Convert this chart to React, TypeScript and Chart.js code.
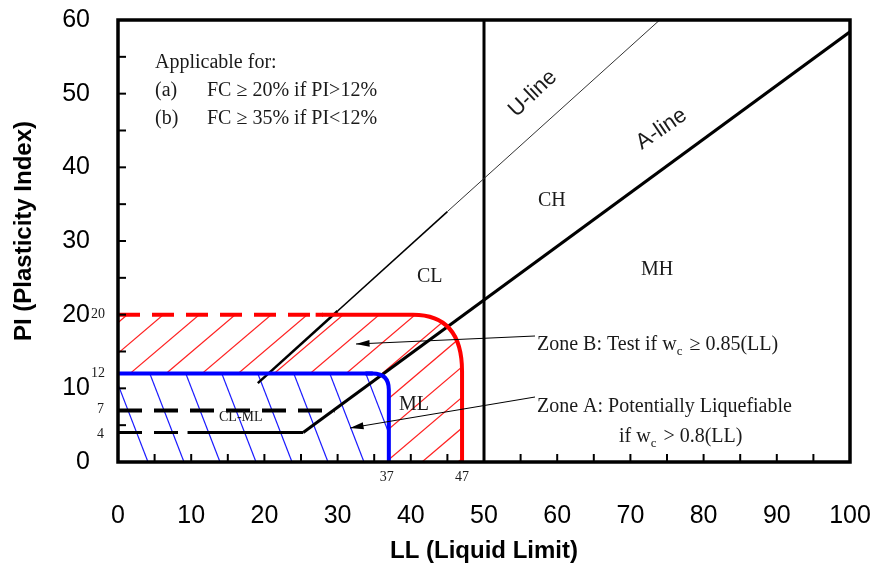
import { useEffect, useRef } from "react";
import Chart from "chart.js/auto";

// line geometry (LL, PI)
const aLine = [{ x: 25.3, y: 4 }, { x: 100, y: 58.4 }];
const uLineLow = [{ x: 19.1, y: 10.7 }, { x: 30, y: 20.5 }];
const uLineMid = [{ x: 30, y: 20.5 }, { x: 45, y: 34 }];
const uLineHigh = [{ x: 45, y: 34 }, { x: 74, y: 60 }];
const lineTop = [{ x: 50, y: 0 }, { x: 50, y: 60 }];
const pi7Dashed = [{ x: 0, y: 7 }, { x: 29.6, y: 7 }];
const pi4Dashed = [{ x: 0, y: 4 }, { x: 10, y: 4 }];
const pi4Solid = [{ x: 9.5, y: 4 }, { x: 25.3, y: 4 }];
const redDashed = [{ x: 0, y: 20 }, { x: 28, y: 20 }];
const blueDashless = [{ x: 0, y: 12 }, { x: 34.8, y: 12 }];

// zone boundaries
const zoneB = { ll: 47, pi: 20, cornerLL: 40.3, cornerPI: 12.3 };
const zoneA = { ll: 37, pi: 12, cornerLL: 34.8, cornerPI: 9.8 };

const xTicks = [0, 10, 20, 30, 40, 50, 60, 70, 80, 90, 100];
const yTicks = [0, 10, 20, 30, 40, 50, 60];

const serif = "'Liberation Serif', 'Times New Roman', serif";
const sans = "'Liberation Sans', Arial, sans-serif";

export default function App() {
  const canvasRef = useRef<HTMLCanvasElement>(null);

  useEffect(() => {
    document.body.style.margin = "0";
    const canvas = canvasRef.current;
    if (!canvas) return;

    const zonePath = (ctx: CanvasRenderingContext2D, xp: (v: number) => number, yp: (v: number) => number, z: typeof zoneB) => {
      ctx.beginPath();
      ctx.moveTo(xp(0), yp(0));
      ctx.lineTo(xp(0), yp(z.pi));
      ctx.lineTo(xp(z.cornerLL), yp(z.pi));
      ctx.quadraticCurveTo(xp(z.ll), yp(z.pi), xp(z.ll), yp(z.cornerPI));
      ctx.lineTo(xp(z.ll), yp(0));
      ctx.closePath();
    };

    const overlay = {
      id: "overlay",
      beforeDatasetsDraw(chart: any) {
        const { ctx, chartArea: a, scales } = chart;
        const xp = (v: number) => scales.x.getPixelForValue(v);
        const yp = (v: number) => scales.y.getPixelForValue(v);
        ctx.save();
        zonePath(ctx, xp, yp, zoneB);
        ctx.clip();
        ctx.strokeStyle = "#ff2020";
        ctx.lineWidth = 1.2;
        for (let x0 = a.left - 200; x0 < a.right; x0 += 36) {
          ctx.beginPath();
          ctx.moveTo(x0, a.bottom);
          ctx.lineTo(x0 + 200, a.bottom - 170);
          ctx.stroke();
        }
        ctx.restore();
        ctx.save();
        zonePath(ctx, xp, yp, zoneA);
        ctx.fillStyle = "#fff";
        ctx.fill();
        ctx.clip();
        ctx.strokeStyle = "#1a1aff";
        ctx.lineWidth = 1.2;
        for (let x0 = a.left - 100; x0 < a.right; x0 += 36) {
          ctx.beginPath();
          ctx.moveTo(x0, a.bottom - 150);
          ctx.lineTo(x0 + 58, a.bottom);
          ctx.stroke();
        }
        ctx.restore();
      },
      afterDatasetsDraw(chart: any) {
        const { ctx, chartArea: a, scales } = chart;
        const xp = (v: number) => scales.x.getPixelForValue(v);
        const yp = (v: number) => scales.y.getPixelForValue(v);
        ctx.save();
        ctx.lineWidth = 4;
        ctx.strokeStyle = "#ff0000";
        ctx.beginPath();
        ctx.moveTo(xp(27), yp(zoneB.pi));
        ctx.lineTo(xp(zoneB.cornerLL), yp(zoneB.pi));
        ctx.quadraticCurveTo(xp(zoneB.ll), yp(zoneB.pi), xp(zoneB.ll), yp(zoneB.cornerPI));
        ctx.lineTo(xp(zoneB.ll), a.bottom);
        ctx.stroke();
        ctx.strokeStyle = "#0000ff";
        ctx.beginPath();
        ctx.moveTo(xp(zoneA.cornerLL - 1), yp(zoneA.pi));
        ctx.lineTo(xp(zoneA.cornerLL), yp(zoneA.pi));
        ctx.quadraticCurveTo(xp(zoneA.ll), yp(zoneA.pi), xp(zoneA.ll), yp(zoneA.cornerPI));
        ctx.lineTo(xp(zoneA.ll), a.bottom);
        ctx.stroke();

        // frame and inward ticks
        ctx.strokeStyle = "#000";
        ctx.lineWidth = 3.5;
        ctx.strokeRect(a.left, a.top, a.right - a.left, a.bottom - a.top);
        ctx.lineWidth = 2;
        for (let v = 5; v < 100; v += 5) {
          ctx.beginPath();
          ctx.moveTo(xp(v), a.bottom);
          ctx.lineTo(xp(v), a.bottom - 8);
          ctx.stroke();
        }
        for (let v = 5; v < 60; v += 5) {
          ctx.beginPath();
          ctx.moveTo(a.left, yp(v));
          ctx.lineTo(a.left + 8, yp(v));
          ctx.stroke();
        }

        const arrow = (x1: number, y1: number, x2: number, y2: number) => {
          ctx.lineWidth = 1;
          ctx.beginPath();
          ctx.moveTo(x1, y1);
          ctx.lineTo(x2, y2);
          ctx.stroke();
          const ang = Math.atan2(y2 - y1, x2 - x1);
          ctx.beginPath();
          ctx.moveTo(x2, y2);
          ctx.lineTo(x2 - 14 * Math.cos(ang - 0.25), y2 - 14 * Math.sin(ang - 0.25));
          ctx.lineTo(x2 - 14 * Math.cos(ang + 0.25), y2 - 14 * Math.sin(ang + 0.25));
          ctx.closePath();
          ctx.fillStyle = "#000";
          ctx.fill();
        };
        arrow(535, 336, 356, 344);
        arrow(535, 397, 350, 428);

        ctx.fillStyle = "#1a1a1a";
        ctx.textBaseline = "alphabetic";
        ctx.textAlign = "left";
        ctx.font = `20px ${serif}`;
        ctx.fillText("Applicable for:", 155, 68);
        ctx.fillText("(a)", 155, 96);
        ctx.fillText("FC \u2265 20% if PI>12%", 207, 96);
        ctx.fillText("(b)", 155, 124);
        ctx.fillText("FC \u2265 35% if PI<12%", 207, 124);
        ctx.fillText("CL", 417, 282);
        ctx.fillText("CH", 538, 206);
        ctx.fillText("MH", 641, 275);
        ctx.fillText("ML", 399, 410);
        ctx.font = `14px ${serif}`;
        ctx.fillText("CL-ML", 219, 421);

        const sub = (x: number, y: number, before: string, after: string) => {
          ctx.font = `20px ${serif}`;
          ctx.fillText(before, x, y);
          let w = ctx.measureText(before).width;
          ctx.font = `13px ${serif}`;
          ctx.fillText("c", x + w, y + 5);
          w += ctx.measureText("c").width + 2;
          ctx.font = `20px ${serif}`;
          ctx.fillText(after, x + w, y);
        };
        sub(537, 350, "Zone B: Test if w", " \u2265 0.85(LL)");
        ctx.font = `20px ${serif}`;
        ctx.fillText("Zone A: Potentially Liquefiable", 537, 412);
        sub(619, 442, "if w", " > 0.8(LL)");

        ctx.font = `14px ${serif}`;
        ctx.fillText("20", 91, 318);
        ctx.fillText("12", 91, 377);
        ctx.fillText("7", 97, 413);
        ctx.fillText("4", 97, 438);
        ctx.textAlign = "center";
        ctx.fillText("37", xp(37) - 2, a.bottom + 19);
        ctx.fillText("47", xp(47), a.bottom + 19);

        ctx.font = `22px ${sans}`;
        ctx.save();
        ctx.translate(537, 98);
        ctx.rotate(-0.76);
        ctx.fillText("U-line", 0, 0);
        ctx.restore();
        ctx.save();
        ctx.translate(665, 134);
        ctx.rotate(-0.6);
        ctx.fillText("A-line", 0, 0);
        ctx.restore();

        ctx.fillStyle = "#000";
        ctx.font = `bold 24px ${sans}`;
        ctx.fillText("LL (Liquid Limit)", (a.left + a.right) / 2, 558);
        ctx.save();
        ctx.translate(31, (a.top + a.bottom) / 2 - 10);
        ctx.rotate(-Math.PI / 2);
        ctx.fillText("PI (Plasticity Index)", 0, 0);
        ctx.restore();
        ctx.restore();
      },
    };

    const seg = (data: { x: number; y: number }[], color: string, width: number, dash: number[] = []) => ({
      data,
      borderColor: color,
      borderWidth: width,
      borderDash: dash,
      pointRadius: 0,
      fill: false,
      showLine: true,
    });

    const chart = new Chart(canvas.getContext("2d")!, {
      type: "scatter",
      data: {
        datasets: [
          seg(redDashed, "#ff0000", 4, [22, 12]),
          seg(blueDashless, "#0000ff", 4),
          seg(pi7Dashed, "#000", 4, [24, 12]),
          seg(pi4Dashed, "#000", 3, [24, 12]),
          seg(pi4Solid, "#000", 3),
          seg(aLine, "#000", 3),
          seg(uLineLow, "#000", 2.5),
          seg(uLineMid, "#000", 1.6),
          seg(uLineHigh, "#333", 1),
          seg(lineTop, "#000", 3),
        ],
      },
      options: {
        responsive: false,
        animation: false,
        layout: { padding: { top: 20, right: 0, left: 0, bottom: 0 } },
        plugins: { legend: { display: false }, tooltip: { enabled: false } },
        scales: {
          x: {
            type: "linear",
            min: 0,
            max: 100,
            afterBuildTicks: (s: any) => { s.ticks = xTicks.map((v) => ({ value: v })); },
            afterFit: (s: any) => { s.height = 112; s.paddingRight = 27; },
            grid: { display: false },
            border: { display: false },
            ticks: { color: "#000", padding: 31, maxRotation: 0, font: { size: 25, family: sans } },
          },
          y: {
            type: "linear",
            min: 0,
            max: 60,
            afterBuildTicks: (s: any) => { s.ticks = yTicks.map((v) => ({ value: v })); },
            afterFit: (s: any) => { s.width = 118; s.paddingTop = 0; s.paddingBottom = 0; },
            grid: { display: false },
            border: { display: false },
            ticks: { color: "#000", padding: 20, font: { size: 25, family: sans } },
          },
        },
      },
      plugins: [overlay],
    });

    return () => chart.destroy();
  }, []);

  return <canvas ref={canvasRef} width={877} height={574} />;
}
